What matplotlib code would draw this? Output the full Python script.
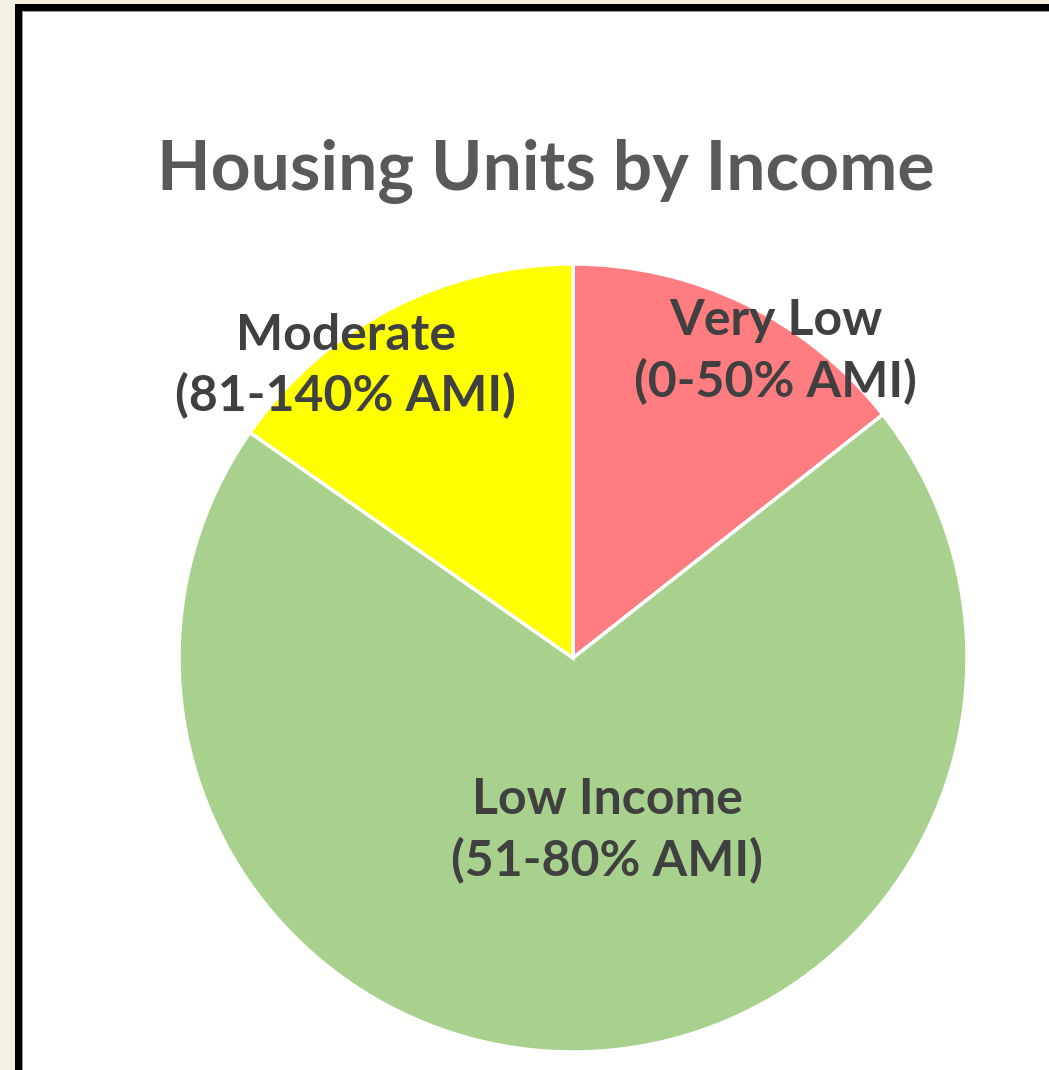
import matplotlib.pyplot as plt
from matplotlib.patches import Rectangle

# Données
categories = ['Very Low\n(0-50% AMI)', 'Low Income\n(51-80% AMI)', 'Moderate\n(81-140% AMI)']
shares = [14.4, 70.3, 15.3]
colors = ['#FF7C80', '#A9D18E', '#FFFF00']

# positions des étiquettes (coordonnées du camembert, rayon = 1)
label_pos = [(0.515, 0.777), (0.087, -0.437), (-0.577, 0.741)]

W, H = 1049, 1070
fig = plt.figure(figsize=(W / 100, H / 100), dpi=100)
fig.patch.set_facecolor('#F4F0E2')

# cadre noir + fond blanc
fig.add_artist(Rectangle((15 / W, 0), 1, 1 - 4 / H, transform=fig.transFigure,
                         facecolor='black', edgecolor='none', zorder=0))
fig.add_artist(Rectangle((22 / W, 0), 1, 1 - 11 / H, transform=fig.transFigure,
                         facecolor='#9A9A9A', edgecolor='none', zorder=0))
fig.add_artist(Rectangle((23 / W, 0), 1, 1 - 12 / H, transform=fig.transFigure,
                         facecolor='white', edgecolor='none', zorder=0))

r = 394
ax = fig.add_axes([(573 - r) / W, (H - 658 - r) / H, 2 * r / W, 2 * r / H])
ax.pie(shares, colors=colors, startangle=90, counterclock=False,
       wedgeprops=dict(edgecolor='white', linewidth=2.5))
ax.set_xlim(-1, 1)
ax.set_ylim(-1, 1)
ax.set_aspect('equal')
ax.axis('off')

for label, (x, y) in zip(categories, label_pos):
    ax.text(x, y, label, ha='center', va='center', fontsize=36, family='Lato',
            fontweight='bold', color='#404040', linespacing=1.38)

fig.text(546 / W, 1 - 171 / H, 'Housing Units by Income', ha='center', va='center',
         fontsize=50, family='Lato', fontweight='bold', color='#595959')

plt.savefig('out.png', dpi=100, facecolor=fig.get_facecolor())
